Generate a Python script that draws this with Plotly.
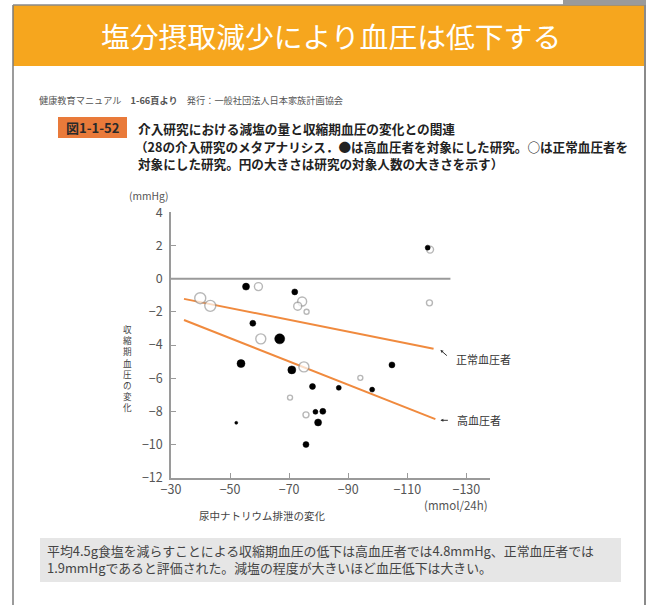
import plotly.graph_objects as go

# --- Data: change in urinary sodium (mmol/24h) vs change in systolic BP (mmHg)
# Studies of hypertensive subjects (filled circles)
hyp_na = [-55.4, -71.9, -57.7, -66.8, -53.7, -70.9, -77.9, -86.8, -78.9, -81.4,
          -79.8, -52.1, -75.7, -116.9, -104.8, -98.1]
hyp_bp = [-0.48, -0.80, -2.69, -3.63, -5.12, -5.50, -6.50, -6.58, -8.03, -8.00,
          -8.67, -8.69, -10.0, 1.87, -5.20, -6.69]
hyp_diam = [7, 6, 6, 10, 8, 8, 6, 5, 5, 6, 7, 3, 6, 5, 6, 5]

# Studies of normotensive subjects (open circles)
norm_na = [-59.6, -39.9, -43.3, -74.4, -72.9, -75.9, -60.4, -75.0, -70.3, -75.7,
           -117.7, -117.5, -94.1]
norm_bp = [-0.48, -1.18, -1.64, -1.38, -1.66, -2.00, -3.63, -5.32, -7.17, -8.21,
           1.75, -1.46, -5.98]
norm_diam = [8, 11, 11, 9, 8, 5, 10, 10, 5, 6, 7, 6, 5]

# Regression lines
norm_fit_x = [-34.4, -118.9]
norm_fit_y = [-1.22, -4.22]
hyp_fit_x = [-34.4, -119.5]
hyp_fit_y = [-2.49, -8.47]

x_ticks = [-30, -50, -70, -90, -110, -130]
y_ticks = [4, 2, 0, -2, -4, -6, -8, -10, -12]

W, H = 648, 605
JP = "Noto Sans CJK JP"
ORANGE = "#F6A61E"
LINE_OR = "#F08A3E"
GREY = "#9a9a9a"


def px(xp):
    return xp / W


def py(yp):
    return 1 - yp / H


def label(text, x, y, size, color, xa="center", ya="middle", align="center"):
    return dict(text=text, xref="paper", yref="paper", x=px(x), y=py(y),
                xanchor=xa, yanchor=ya, align=align, showarrow=False,
                font=dict(family=JP, size=size, color=color))


fig = go.Figure()

fig.add_trace(go.Scatter(
    x=norm_fit_x, y=norm_fit_y, mode="lines",
    line=dict(color=LINE_OR, width=2), hoverinfo="skip"))
fig.add_trace(go.Scatter(
    x=hyp_fit_x, y=hyp_fit_y, mode="lines",
    line=dict(color=LINE_OR, width=2), hoverinfo="skip"))

fig.add_trace(go.Scatter(
    x=norm_na, y=norm_bp, mode="markers",
    marker=dict(size=norm_diam, color="white",
                line=dict(color=GREY, width=1.4))))
fig.add_trace(go.Scatter(
    x=hyp_na, y=hyp_bp, mode="markers",
    marker=dict(size=hyp_diam, color="#000000", opacity=1,
                line=dict(color="#000000", width=0.5))))

shapes = [
    # orange header band
    dict(type="rect", xref="paper", yref="paper",
         x0=px(13), x1=px(644), y0=py(66), y1=py(5),
         fillcolor=ORANGE, line=dict(width=0), layer="below"),
    # frame
    dict(type="line", xref="paper", yref="paper",
         x0=px(13), x1=px(13), y0=py(605), y1=py(5),
         line=dict(color="#7a7a7a", width=1.5)),
    dict(type="line", xref="paper", yref="paper",
         x0=px(13), x1=px(645), y0=py(5), y1=py(5),
         line=dict(color="#8a8a8a", width=1.5)),
    dict(type="line", xref="paper", yref="paper",
         x0=px(645), x1=px(645), y0=py(605), y1=py(0),
         line=dict(color="#8a8a8a", width=2)),
    dict(type="rect", xref="paper", yref="paper",
         x0=px(563), x1=px(646), y0=py(5), y1=py(0),
         fillcolor="#9a9a9a", line=dict(width=0)),
    # figure number badge
    dict(type="rect", xref="paper", yref="paper",
         x0=px(58), x1=px(127), y0=py(138), y1=py(117),
         fillcolor="#E97A3A", line=dict(width=0), layer="below"),
    # summary box
    dict(type="rect", xref="paper", yref="paper",
         x0=px(40), x1=px(621), y0=py(582), y1=py(538),
         fillcolor="#E6E6E6", line=dict(width=0), layer="below"),
    # zero reference line
    dict(type="line", xref="x", yref="y",
         x0=-30, x1=-124.6, y0=0, y1=0,
         line=dict(color=GREY, width=2)),
]

annotations = [
    label("塩分摂取減少により血圧は低下する", 331, 36, 28.8, "white"),
    label("健康教育マニュアル　<b>1-66頁より</b>　発行：一般社団法人日本家族計画協会",
          37, 100, 9.2, "#555", xa="left"),
    label("<b>図1-1-52</b>", 92.5, 127.5, 13, "#2a2a2a"),
    label("<b>介入研究における減塩の量と収縮期血圧の変化との関連</b>",
          136, 128, 12.7, "#222", xa="left"),
    label("<b>（28の介入研究のメタアナリシス．●は高血圧者を対象にした研究。○は正常血圧者を</b>",
          133, 146, 12.6, "#222", xa="left"),
    label("<b>対象にした研究。円の大きさは研究の対象人数の大きさを示す）</b>",
          136, 163, 12.6, "#222", xa="left"),
    label("(mmHg)", 149, 195, 10.3, "#555"),
    label("<br>".join("収縮期血圧の変化"), 127, 368, 8.6, "#444"),
    label("尿中ナトリウム排泄の変化", 262, 515, 10.5, "#444"),
    label("(mmol/24h)", 490, 505, 11.5, "#555", xa="right"),
    # line labels
    dict(text="", x=-121.2, y=-4.3, xref="x", yref="y", ax=8, ay=7,
         showarrow=True, arrowhead=2, arrowsize=0.6, arrowwidth=1,
         arrowcolor="#333"),
    dict(text="正常血圧者", x=-125.9, y=-4.84, xref="x", yref="y",
         xanchor="left", yanchor="middle", showarrow=False,
         font=dict(family=JP, size=11, color="#333")),
    dict(text="", x=-121.2, y=-8.54, xref="x", yref="y", ax=9, ay=0,
         showarrow=True, arrowhead=2, arrowsize=0.6, arrowwidth=1,
         arrowcolor="#333"),
    dict(text="高血圧者", x=-126.3, y=-8.54, xref="x", yref="y",
         xanchor="left", yanchor="middle", showarrow=False,
         font=dict(family=JP, size=11, color="#333")),
    # summary text
    label("平均4.5g食塩を減らすことによる収縮期血圧の低下は高血圧者では4.8mmHg、正常血圧者では<br>"
          "1.9mmHgであると評価された。減塩の程度が大きいほど血圧低下は大きい。",
          45, 559, 12.9, "#444", xa="left", align="left"),
]

fig.update_layout(
    width=W, height=H, margin=dict(l=0, r=0, t=0, b=0),
    paper_bgcolor="white", plot_bgcolor="white",
    showlegend=False, shapes=shapes, annotations=annotations,
    xaxis=dict(domain=[px(171), px(490)], range=[-30, -138],
               tickvals=x_ticks, ticks="inside", ticklen=5, tickcolor=GREY,
               showline=True, linecolor=GREY, linewidth=1.5,
               showgrid=False, zeroline=False, automargin=False,
               tickfont=dict(family=JP, size=12.5, color="#555")),
    yaxis=dict(domain=[py(477.7), py(212.3)], range=[-12, 4],
               tickvals=y_ticks, ticks="inside", ticklen=5, tickcolor=GREY,
               showline=True, linecolor=GREY, linewidth=1.5,
               showgrid=False, zeroline=False, automargin=False,
               ticklabelstandoff=4,
               tickfont=dict(family=JP, size=12.5, color="#555")),
)

# let the figure fill the page edge to edge
page_css = ("document.body.style.margin='0';"
            "document.documentElement.style.overflow='hidden';")
fig.write_html("out.html", post_script=page_css)
